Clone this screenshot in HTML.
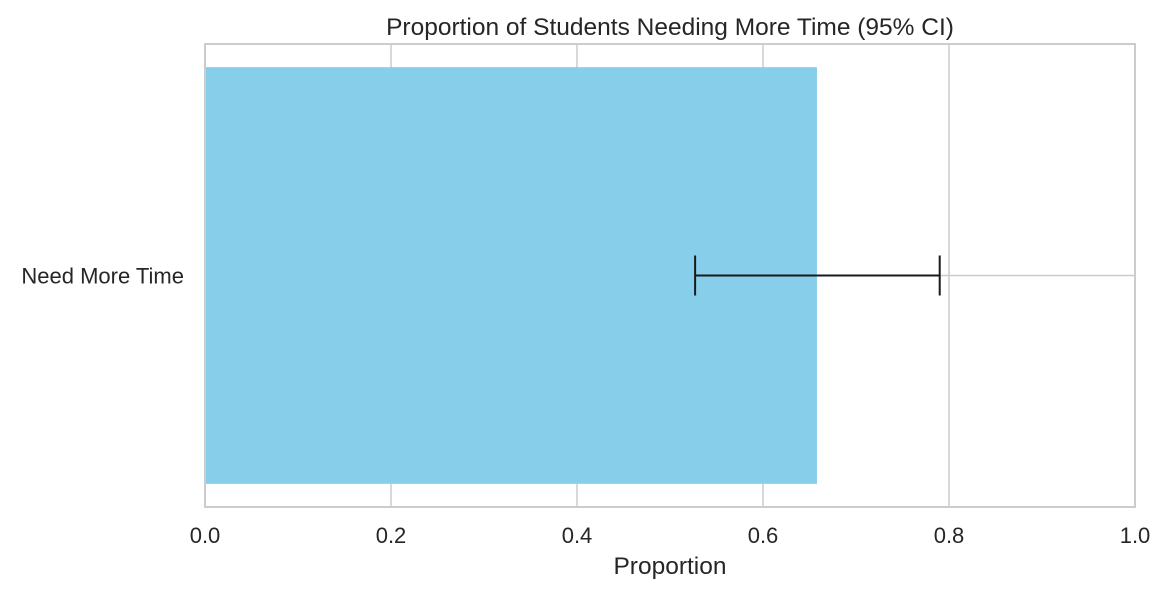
<!DOCTYPE html>
<html><head><meta charset="utf-8"><style>
body{margin:0;background:#fff;}
svg text{font-family:"Liberation Sans","DejaVu Sans",sans-serif;fill:#262626;}
</style></head><body>
<svg id="chart" width="1165" height="593" xmlns="http://www.w3.org/2000/svg"></svg>
<script>
const categories = ["Need More Time"];
const values = [0.658];
const ciLow = [0.527];
const ciHigh = [0.790];
const xTicks = [0, 0.2, 0.4, 0.6, 0.8, 1.0];
const xTickLabels = ["0.0","0.2","0.4","0.6","0.8","1.0"];

const svg = document.getElementById('chart');
const NS = 'http://www.w3.org/2000/svg';
const L=205, R=1135, T=44, B=507;
const x = v => L + (R-L)*v;
const bandH = (B-T)/categories.length;
const yc = i => T + bandH*(i+0.5);
function mk(tag, attrs, parent){const e=document.createElementNS(NS,tag);for(const k in attrs)e.setAttribute(k,attrs[k]);(parent||svg).appendChild(e);return e;}

xTicks.forEach((t,i)=>{
  const g = mk('line',{x1:x(t),x2:x(t),y1:T,y2:B,stroke:'#cccccc','stroke-width':1.5});
  
  
  const tx = mk('text',{x:x(t),y:543,'text-anchor':'middle','font-size':22});
  tx.textContent = xTickLabels[i];
  
  
});
categories.forEach((c,i)=>{
  const g = mk('line',{x1:L,x2:R,y1:yc(i),y2:yc(i),stroke:'#cccccc','stroke-width':1.5});
  
  
});
categories.forEach((c,i)=>{
  const h = bandH*0.9;
  const b = mk('rect',{x:x(0),y:yc(i)-h/2,width:x(values[i])-x(0),height:h,fill:'#87ceeb'});
  
  
  const e = mk('g',{stroke:'#1a1a1a','stroke-width':2});
  
  
  mk('line',{x1:x(ciLow[i]),x2:x(ciHigh[i]),y1:yc(i),y2:yc(i)},e);
  mk('line',{x1:x(ciLow[i]),x2:x(ciLow[i]),y1:yc(i)-20,y2:yc(i)+20},e);
  mk('line',{x1:x(ciHigh[i]),x2:x(ciHigh[i]),y1:yc(i)-20,y2:yc(i)+20},e);
  const tl = mk('text',{x:184,y:yc(i)+8,'text-anchor':'end','font-size':22});
  tl.textContent = c;
  
  
});
const f = mk('rect',{x:L,y:T,width:R-L,height:B-T,fill:'none',stroke:'#cccccc','stroke-width':2});


const ti = mk('text',{x:(L+R)/2+0,y:35,'text-anchor':'middle','font-size':24.5});
ti.textContent='Proportion of Students Needing More Time (95% CI)';


const xl = mk('text',{x:(L+R)/2,y:574,'text-anchor':'middle','font-size':24.5});
xl.textContent='Proportion';


</script>
</body></html>
